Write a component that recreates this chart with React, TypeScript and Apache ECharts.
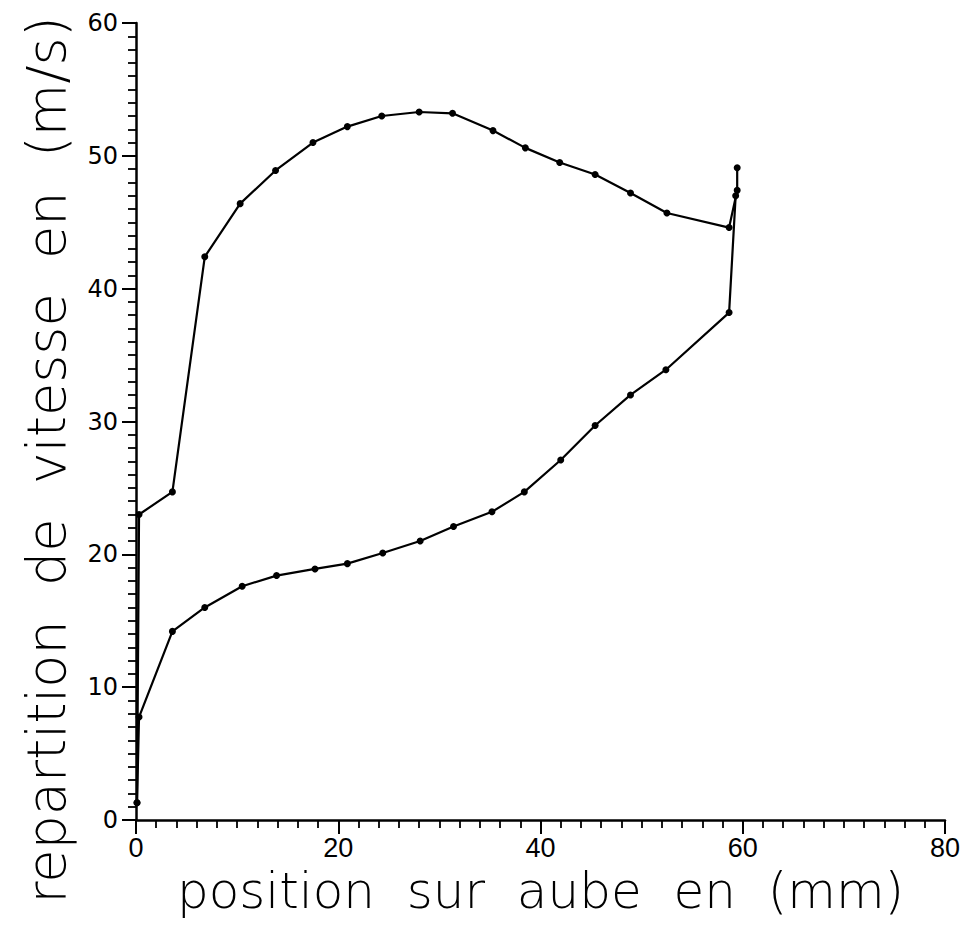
import React, { useEffect, useRef } from "react";
import * as echarts from "echarts";

const upperX = [0.1, 0.3, 3.6, 6.8, 10.3, 13.8, 17.5, 20.9, 24.3, 28.0, 31.3, 35.3, 38.5, 41.9, 45.4, 48.9, 52.5, 58.65, 59.45, 59.45];
const upperY = [1.3, 23.0, 24.7, 42.4, 46.4, 48.9, 51.0, 52.2, 53.0, 53.3, 53.2, 51.9, 50.6, 49.5, 48.6, 47.2, 45.7, 44.6, 47.4, 49.1];
const lowerX = [0.1, 0.3, 3.6, 6.8, 10.5, 13.9, 17.7, 20.9, 24.4, 28.1, 31.4, 35.2, 38.4, 42.0, 45.4, 48.9, 52.4, 58.65, 59.3];
const lowerY = [1.3, 7.75, 14.2, 16.0, 17.6, 18.4, 18.9, 19.3, 20.1, 21.0, 22.1, 23.2, 24.7, 27.1, 29.7, 32.0, 33.9, 38.2, 47.0];

const xTitle = "position  sur  aube  en  (mm)";
const yTitle = "repartition  de  vitesse  en  (m/s)";

export default function App() {
  const ref = useRef<HTMLDivElement>(null);
  useEffect(() => {
    if (!ref.current) return;
    const chart = echarts.init(ref.current, null, { renderer: "svg" });
    const upper = upperX.map((x, i) => [x, upperY[i]]);
    const lower = lowerX.map((x, i) => [x, lowerY[i]]);
    const lineStyle = { color: "#000", width: 2.2 };
    chart.setOption({
      animation: false,
      backgroundColor: "#fff",
      grid: { left: 136, top: 23, right: 22, bottom: 109, containLabel: false },
      xAxis: {
        type: "value",
        min: 0,
        max: 80,
        interval: 20,
        name: xTitle,
        nameLocation: "middle",
        nameGap: 42,
        nameTextStyle: { fontFamily: "DejaVu Sans", fontWeight: 200, fontSize: 50, color: "#000" },
        axisLine: { show: true, onZero: false, lineStyle: { color: "#000", width: 2.5 } },
        axisTick: { show: true, inside: false, length: 14, lineStyle: { color: "#000", width: 2 } },
        minorTick: { show: true, splitNumber: 10, length: 8, lineStyle: { color: "#000", width: 1.8 } },
        splitLine: { show: false },
        minorSplitLine: { show: false },
        axisLabel: { margin: 14, fontSize: 27, fontFamily: "Liberation Sans", color: "#000" },
      },
      yAxis: {
        type: "value",
        min: 0,
        max: 60,
        interval: 10,
        axisLine: { show: true, onZero: false, lineStyle: { color: "#000", width: 2.5 } },
        axisTick: { show: true, inside: false, length: 14, lineStyle: { color: "#000", width: 2 } },
        minorTick: { show: true, splitNumber: 10, length: 8, lineStyle: { color: "#000", width: 1.8 } },
        splitLine: { show: false },
        minorSplitLine: { show: false },
        axisLabel: { margin: 18, fontSize: 24, fontFamily: "DejaVu Sans", color: "#000" },
      },
      graphic: [
        {
          type: "text",
          x: 46,
          y: 460,
          rotation: Math.PI / 2,
          style: {
            text: yTitle,
            fontFamily: "DejaVu Sans",
            fontWeight: 200,
            fontSize: 54,
            fill: "#000",
            align: "center",
            verticalAlign: "middle",
          },
        },
      ],
      series: [
        {
          type: "line",
          data: upper,
          symbol: "circle",
          symbolSize: 7,
          showSymbol: true,
          itemStyle: { color: "#000" },
          lineStyle,
        },
        {
          type: "line",
          data: lower,
          symbol: "circle",
          symbolSize: 7,
          showSymbol: true,
          itemStyle: { color: "#000" },
          lineStyle,
        },
      ],
    });
    return () => chart.dispose();
  }, []);
  return (
    <div
      ref={ref}
      style={{ position: "fixed", left: 0, top: 0, width: 967, height: 929, background: "#fff" }}
    />
  );
}
